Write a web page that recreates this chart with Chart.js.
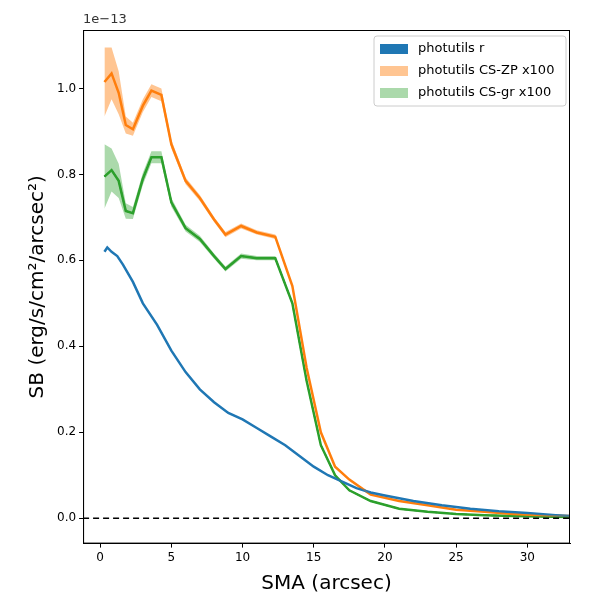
<!DOCTYPE html><html><head><script src="https://cdn.jsdelivr.net/npm/chart.js"></script>
<style>body{margin:0;background:#fff}#w{width:600px;height:600px}</style></head><body><div id="w"><canvas id="c"></canvas></div>
<script>
const rX=[0.3,0.5,0.8,1.2,1.6,2.3,3,4,5,6,7,8,9,10,11,12,13,14,15,16,17,18,19,20,22,24,26,28,30,32,33];
const rY=[0.62,0.63,0.62,0.61,0.59,0.55,0.50,0.45,0.39,0.34,0.30,0.27,0.245,0.23,0.21,0.19,0.17,0.145,0.12,0.10,0.085,0.07,0.06,0.053,0.04,0.03,0.022,0.016,0.012,0.007,0.005];
const sX=[0.3,0.8,1.3,1.8,2.3,3,3.6,4.3,5,6,7,8,8.8,9.9,11,12.3,13.5,14.5,15.5,16.5,17.5,19,21,23,25,27,29,31,33];
const zpY=[1.015,1.035,0.99,0.915,0.905,0.96,0.995,0.985,0.87,0.785,0.745,0.695,0.66,0.68,0.665,0.655,0.54,0.35,0.2,0.12,0.09,0.055,0.04,0.03,0.02,0.015,0.01,0.007,0.005];
const zpE=[0.08,0.06,0.05,0.02,0.015,0.015,0.015,0.015,0.01,0.008,0.007,0.006,0.006,0.006,0.005,0.005,0.004,0.003,0.002,0.002,0.002,0.001,0.001,0.001,0.001,0.001,0.001,0.001,0.001];
const grY=[0.795,0.81,0.785,0.715,0.71,0.79,0.84,0.84,0.735,0.675,0.65,0.61,0.58,0.61,0.605,0.605,0.5,0.32,0.17,0.1,0.065,0.04,0.022,0.015,0.01,0.007,0.005,0.004,0.003];
const grE=[0.075,0.05,0.04,0.018,0.014,0.014,0.014,0.014,0.01,0.008,0.007,0.006,0.006,0.006,0.005,0.005,0.004,0.003,0.002,0.002,0.002,0.001,0.001,0.001,0.001,0.001,0.001,0.001,0.001];
const legendItems=[['photutils r','#1f77b4'],['photutils CS-ZP x100','rgba(255,127,14,0.45)'],['photutils CS-gr x100','rgba(44,160,44,0.4)']];
const pts=(xs,ys)=>xs.map((x,i)=>({x,y:ys[i]}));
const off=(xs,ys,es,s)=>xs.map((x,i)=>({x,y:ys[i]+s*es[i]}));
const extra={id:'extra',afterDraw(c){const x=c.ctx,a=c.chartArea,ys=c.scales.y;
x.save();x.font='13px DejaVu Sans';x.fillStyle='#333';x.textAlign='left';x.textBaseline='bottom';x.fillText('1e\u221213',a.left,a.top-4);
x.setLineDash([6,4]);x.strokeStyle='#000';x.lineWidth=1.5;x.beginPath();x.moveTo(a.left,ys.getPixelForValue(0));x.lineTo(a.right,ys.getPixelForValue(0));x.stroke();
x.setLineDash([]);x.lineWidth=1;x.strokeRect(a.left+0.5,a.top+0.5,a.right-a.left-1,a.bottom-a.top-1);
const lw=192,lh=70,lx=a.right-lw-4,ly=a.top+6;
x.fillStyle='rgba(255,255,255,0.85)';x.strokeStyle='#ccc';x.beginPath();x.roundRect(lx,ly,lw,lh,3);x.fill();x.stroke();
x.font='13px DejaVu Sans';x.textBaseline='middle';
legendItems.forEach(([t,col],i)=>{const yy=ly+13+i*22;x.fillStyle=col;x.fillRect(lx+6,yy-5,28,10);x.fillStyle='#000';x.fillText(t,lx+44,yy);});
x.restore();}};
const L={pointRadius:0,tension:0,fill:false};
const tickGrid={drawOnChartArea:false,drawTicks:true,tickLength:4,color:'#000'};
new Chart(document.getElementById('c'),{type:'scatter',data:{datasets:[
{label:'zpU',data:off(sX,zpY,zpE,1),showLine:true,...L,borderWidth:0,backgroundColor:'rgba(255,127,14,0.45)',fill:'+1'},
{label:'zpL',data:off(sX,zpY,zpE,-1),showLine:true,...L,borderWidth:0},
{label:'grU',data:off(sX,grY,grE,1),showLine:true,...L,borderWidth:0,backgroundColor:'rgba(44,160,44,0.4)',fill:'+1'},
{label:'grL',data:off(sX,grY,grE,-1),showLine:true,...L,borderWidth:0},
{label:'r',data:pts(rX,rY),showLine:true,...L,borderColor:'#1f77b4',borderWidth:2.5},
{label:'zp',data:pts(sX,zpY),showLine:true,...L,borderColor:'#ff7f0e',borderWidth:2.5},
{label:'gr',data:pts(sX,grY),showLine:true,...L,borderColor:'#2ca02c',borderWidth:2.5},
{label:'grd',data:pts(sX,grY),showLine:true,...L,borderColor:'#1f6e1f',borderWidth:1.5,borderDash:[6,4]}
]},plugins:[extra],options:{animation:false,responsive:true,maintainAspectRatio:false,
layout:{padding:{left:22,right:30,top:30,bottom:0}},
plugins:{tooltip:{enabled:false},legend:{display:false}},
scales:{x:{min:-1.2,max:33,grid:tickGrid,border:{color:'#000'},afterBuildTicks:s=>{s.ticks=[0,5,10,15,20,25,30].map(v=>({value:v}))},ticks:{color:'#000',font:{size:12,family:'DejaVu Sans'}},title:{display:true,text:'SMA (arcsec)',color:'#000',font:{size:20,family:'DejaVu Sans'}}},
y:{min:-0.059,max:1.136,grid:tickGrid,border:{color:'#000'},ticks:{color:'#000',font:{size:12,family:'DejaVu Sans'},callback:v=>v.toFixed(1)},afterBuildTicks:s=>{s.ticks=[0,0.2,0.4,0.6,0.8,1.0].map(v=>({value:v}))},title:{display:true,text:'SB (erg/s/cm\u00b2/arcsec\u00b2)',color:'#000',font:{size:20,family:'DejaVu Sans'}}}}}});
</script></body></html>
